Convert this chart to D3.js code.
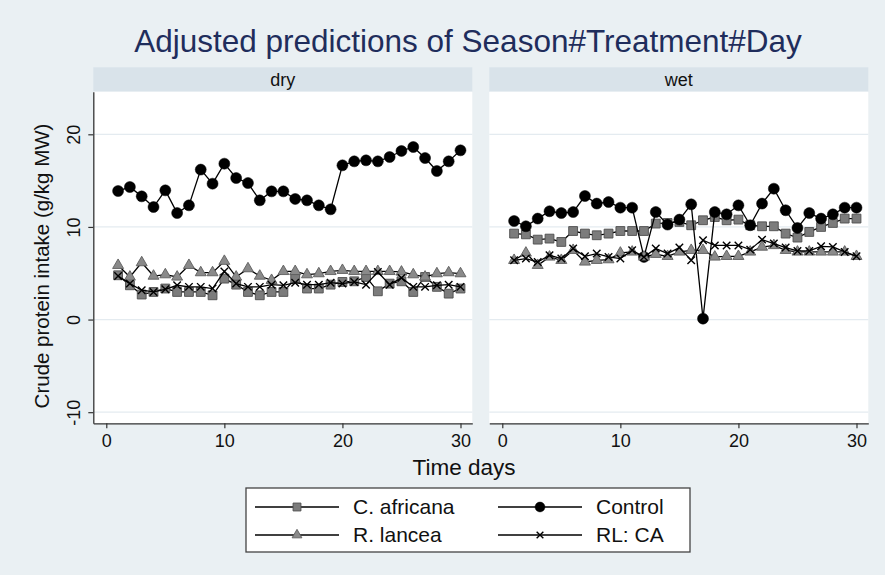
<!DOCTYPE html>
<html>
<head>
<meta charset="utf-8">
<script src="https://cdn.jsdelivr.net/npm/d3@7/dist/d3.min.js"></script>
<style>
  html, body { margin: 0; padding: 0; background: #eaf0f3; }
  svg { display: block; font-family: "Liberation Sans", Arial, Helvetica, sans-serif; }
</style>
</head>
<body>
<svg id="chart" width="885" height="575"></svg>
<script>
// Days 1..30
const days = d3.range(1, 31);

const panels = ["dry", "wet"];
const seriesNames = ["C. africana", "Control", "R. lancea", "RL: CA"];

// Dry season predictions
const dryAfricana = [4.78, 3.7, 2.7, 2.98, 3.35, 2.98, 2.98, 2.98, 2.62, 4.42,
                     3.77, 2.98, 2.62, 2.98, 2.98, 4.42, 3.35, 3.35, 3.77, 4.06,
                     4.13, 4.6, 3.05, 3.88, 4.13, 2.98, 4.6, 3.53, 2.8, 3.35];
const dryControl = [13.88, 14.31, 13.3, 12.15, 13.95, 11.5, 12.33, 16.19, 14.67, 16.83,
                    15.28, 14.74, 12.87, 13.84, 13.84, 13.02, 12.87, 12.33, 11.9, 16.65,
                    17.08, 17.19, 17.08, 17.55, 18.2, 18.63, 17.44, 16.04, 17.08, 18.27];
const dryLancea = [5.86, 4.6, 6.15, 4.7, 4.85, 4.6, 5.86, 5.07, 5.07, 6.3,
                   4.6, 5.5, 4.7, 4.24, 5.2, 5.2, 4.85, 4.96, 5.2, 5.32,
                   5.2, 5.2, 5.2, 5.2, 5.14, 4.85, 4.6, 4.96, 5.07, 4.96];
const dryMix = [4.7, 3.88, 3.17, 2.98, 3.27, 3.7, 3.53, 3.53, 3.35, 5.2,
                3.88, 3.53, 3.53, 3.77, 3.7, 3.98, 3.77, 3.77, 3.98, 3.88,
                4.06, 3.77, 5.14, 3.77, 4.5, 3.53, 3.53, 3.7, 3.77, 3.53];

// Wet season predictions
const wetAfricana = [9.28, 9.2, 8.63, 8.74, 8.38, 9.56, 9.28, 9.1, 9.28, 9.56,
                     9.56, 9.56, 10.36, 10.43, 10.54, 10.18, 10.72, 11.07, 10.72, 10.79,
                     10.18, 10.07, 10.07, 9.28, 8.85, 9.46, 10.0, 10.43, 10.9, 10.9];
const wetControl = [10.64, 10.07, 10.9, 11.69, 11.5, 11.61, 13.34, 12.52, 12.69, 12.08,
                    12.08, 6.76, 11.61, 10.25, 10.79, 12.44, 0.1, 11.61, 11.36, 12.33,
                    10.18, 12.52, 14.13, 11.8, 9.89, 11.5, 10.9, 11.36, 12.08, 12.08];
const wetLancea = [6.4, 7.19, 5.86, 6.76, 6.4, 7.48, 6.22, 6.4, 6.47, 7.19,
                   7.3, 6.76, 7.05, 6.83, 7.3, 7.48, 7.48, 6.76, 6.83, 6.83,
                   7.3, 7.83, 8.0, 7.48, 7.3, 7.3, 7.3, 7.3, 7.3, 6.83];
const wetMix = [6.4, 6.58, 6.22, 6.94, 6.58, 7.66, 6.83, 7.12, 6.76, 6.58,
                7.48, 6.76, 7.66, 7.12, 7.77, 6.4, 8.56, 8.0, 8.0, 8.0,
                7.55, 8.63, 8.2, 7.77, 7.41, 7.41, 7.91, 7.84, 7.3, 6.83];

const xTicks = [0, 10, 20, 30];
const yTicks = [-10, 0, 10, 20];

const panelData = {
  dry: [dryAfricana, dryControl, dryLancea, dryMix],
  wet: [wetAfricana, wetControl, wetLancea, wetMix]
};

// Cross marker drawn as a d3 symbol type
const symbolCross = {
  draw(context, size) {
    const r = Math.sqrt(size) / 2;
    context.moveTo(-r, -r); context.lineTo(r, r);
    context.moveTo(r, -r); context.lineTo(-r, r);
  }
};

const markerStyle = [
  { type: d3.symbolSquare, size: 78, fill: "#7c7c7c", stroke: "#4e4e4e", sw: 0.9 },
  { type: d3.symbolCircle, size: 95, fill: "#000", stroke: "#000", sw: 0.5 },
  { type: d3.symbolTriangle, size: 52, fill: "#8a8a8a", stroke: "#5e5e5e", sw: 0.9 },
  { type: symbolCross, size: 56, fill: "none", stroke: "#000", sw: 1.4 }
];

const svg = d3.select("#chart");
const W = 885, H = 575;

svg.append("rect").attr("width", W).attr("height", H).attr("fill", "#eaf0f3");

// Layout
const plotTop = 91.7, plotBottom = 423.3;
const stripTop = 67.3;
const panelW = 379;
const panelLeft = { dry: 93.3, wet: 489.3 };

const y = d3.scaleLinear().domain([-11.2, 24.6]).range([plotBottom, plotTop]);

// Title
svg.append("text")
  .attr("x", 468).attr("y", 52)
  .attr("text-anchor", "middle")
  .attr("font-size", 31.5)
  .attr("fill", "#1f2d5c")
  .text("Adjusted predictions of Season#Treatment#Day");

panels.forEach(p => {
  const x0 = panelLeft[p];
  const x = d3.scaleLinear().domain([-1.1, 31]).range([x0, x0 + panelW]);
  const g = svg.append("g");

  // strip
  g.append("rect")
    .attr("x", x0).attr("y", stripTop)
    .attr("width", panelW).attr("height", plotTop - stripTop)
    .attr("fill", "#d9e3ea");
  g.append("text")
    .attr("x", x0 + panelW / 2).attr("y", plotTop - 6)
    .attr("text-anchor", "middle")
    .attr("font-size", 18)
    .attr("fill", "#111")
    .text(p);

  // plot region
  g.append("rect")
    .attr("x", x0).attr("y", plotTop)
    .attr("width", panelW).attr("height", plotBottom - plotTop)
    .attr("fill", "#ffffff");

  // gridlines
  g.selectAll(".grid").data(yTicks).join("line")
    .attr("x1", x0).attr("x2", x0 + panelW)
    .attr("y1", d => y(d)).attr("y2", d => y(d))
    .attr("stroke", "#e4ebf0").attr("stroke-width", 1.2);

  // x axis
  const xAxis = g.append("g")
    .attr("transform", `translate(0,${plotBottom})`)
    .call(d3.axisBottom(x).tickValues(xTicks).tickSize(5).tickPadding(6).tickSizeOuter(0));
  xAxis.select(".domain").attr("stroke", "#333").attr("stroke-width", 1.3);
  xAxis.selectAll(".tick line").attr("stroke", "#333").attr("stroke-width", 1.2);
  xAxis.selectAll(".tick text")
    .attr("font-size", 18).attr("fill", "#111")
    .attr("font-family", "\"Liberation Sans\", Arial, sans-serif");

  // y axis only on the first panel
  if (p === "dry") {
    const yAxis = g.append("g")
      .attr("transform", `translate(${x0},0)`)
      .call(d3.axisLeft(y).tickValues(yTicks).tickSize(5).tickSizeOuter(0).tickFormat(d => String(d)));
    yAxis.select(".domain").attr("stroke", "#333").attr("stroke-width", 1.3);
    yAxis.selectAll(".tick line").attr("stroke", "#333").attr("stroke-width", 1.2);
    yAxis.selectAll(".tick text")
      .attr("font-size", 18).attr("fill", "#111")
      .attr("font-family", "\"Liberation Sans\", Arial, sans-serif")
      .attr("text-anchor", "middle")
      .attr("x", null).attr("dy", null)
      .attr("transform", "translate(-13,0) rotate(-90)")
      .attr("y", 0);
  }

  // series
  const line = d3.line().x((d, i) => x(days[i])).y(d => y(d));
  panelData[p].forEach((vals, si) => {
    g.append("path")
      .datum(vals)
      .attr("d", line)
      .attr("fill", "none")
      .attr("stroke", "#000")
      .attr("stroke-width", 1.3);
    const m = markerStyle[si];
    g.selectAll(null).data(vals).join("path")
      .attr("transform", (d, i) => `translate(${x(days[i])},${y(d)})`)
      .attr("d", d3.symbol().type(m.type).size(m.size)())
      .attr("fill", m.fill)
      .attr("stroke", m.stroke)
      .attr("stroke-width", m.sw);
  });
});

// Axis titles
svg.append("text")
  .attr("x", 464).attr("y", 475)
  .attr("text-anchor", "middle")
  .attr("font-size", 22.5).attr("fill", "#111")
  .text("Time days");

svg.append("text")
  .attr("transform", "translate(49,266) rotate(-90)")
  .attr("text-anchor", "middle")
  .attr("font-size", 20.5).attr("fill", "#111")
  .text("Crude protein intake (g/kg MW)");

// Legend
const leg = svg.append("g");
leg.append("rect")
  .attr("x", 246).attr("y", 488)
  .attr("width", 444).attr("height", 64)
  .attr("fill", "#ffffff")
  .attr("stroke", "#444").attr("stroke-width", 1.3);

const legCols = [255, 498];
const legRows = [507, 535];
seriesNames.forEach((name, i) => {
  const cx = legCols[i % 2], cy = legRows[Math.floor(i / 2)];
  const m = markerStyle[i];
  leg.append("line")
    .attr("x1", cx).attr("x2", cx + 84)
    .attr("y1", cy).attr("y2", cy)
    .attr("stroke", "#000").attr("stroke-width", 1.3);
  leg.append("path")
    .attr("transform", `translate(${cx + 42},${cy})`)
    .attr("d", d3.symbol().type(m.type).size(m.size * 0.8)())
    .attr("fill", m.fill).attr("stroke", m.stroke).attr("stroke-width", m.sw);
  leg.append("text")
    .attr("x", cx + 98).attr("y", cy)
    .attr("dy", "0.35em")
    .attr("font-size", 21).attr("fill", "#111")
    .text(name);
});
</script>
</body>
</html>
